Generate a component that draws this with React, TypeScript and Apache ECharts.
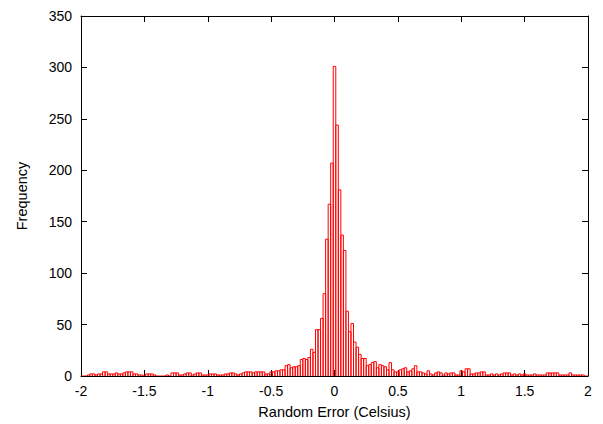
import React, { useEffect, useRef } from "react";
import * as echarts from "echarts";

// Histogram: bins of width 0.02 centred at -2.00, -1.98, ..., 2.00
const BIN_WIDTH = 0.02;
const FIRST_BIN_CENTER = -2;

// counts for bins centred at -2.00 .. -1.26
const countsFarLeft = [
  0, 0, 0, 1, 2, 2, 1, 2, 2, 4, 4, 2, 2, 2, 3, 2, 2, 3, 4, 4,
  4, 2, 2, 1, 1, 0, 2, 2, 2, 1, 0, 0, 0, 0, 1, 0, 3, 3,
];
// -1.24 .. -0.60
const countsLeft = [
  3, 1, 1, 2, 3, 3, 1, 2, 3, 3, 1, 1, 1, 2, 2, 2, 1, 1, 1, 2,
  2, 3, 3, 2, 1, 2, 3, 4, 4, 4, 3, 4, 4,
];
// -0.58 .. -0.24
const countsNearLeft = [4, 4, 2, 2, 4, 4, 5, 5, 6, 6, 10, 11, 8, 9, 9, 10, 16, 17];
// -0.22 .. 0.22
const countsCore = [
  16, 18, 26, 23, 45, 45, 56, 80, 133, 167, 207, 301, 244, 181, 137, 122, 63, 43, 51, 33,
  28, 21, 17,
];
// 0.24 .. 0.54
const countsNearRight = [17, 10, 11, 13, 14, 8, 11, 10, 9, 6, 13, 6, 4, 4, 6, 7];
// 0.56 .. 1.30
const countsRight = [
  8, 4, 5, 7, 10, 4, 4, 3, 2, 5, 2, 1, 3, 4, 3, 1, 3, 2, 3, 3,
  1, 1, 5, 4, 7, 7, 2, 2, 3, 3, 4, 4, 1, 1, 2, 1, 2, 1,
];
// 1.32 .. 2.00
const countsFarRight = [
  2, 3, 3, 3, 1, 2, 1, 2, 1, 2, 1, 1, 1, 2, 1, 1, 1, 1, 3, 3,
  3, 3, 3, 1, 1, 1, 1, 3, 1, 1, 1, 1, 1, 0, 0,
];

const counts = [
  ...countsFarLeft,
  ...countsLeft,
  ...countsNearLeft,
  ...countsCore,
  ...countsNearRight,
  ...countsRight,
  ...countsFarRight,
];

const X_MIN = -2;
const X_MAX = 2;
const X_STEP = 0.5;
const Y_MIN = 0;
const Y_MAX = 350;
const Y_STEP = 50;

const X_TITLE = "Random Error (Celsius)";
const Y_TITLE = "Frequency";

export default function App() {
  const ref = useRef<HTMLDivElement>(null);
  useEffect(() => {
    if (!ref.current) return;
    const chart = echarts.init(ref.current, null, { renderer: "svg" });
    const data = counts.map((c, i) => [
      Math.round((FIRST_BIN_CENTER + i * BIN_WIDTH) * 1000) / 1000,
      c,
    ]);
    const font = "Liberation Sans, Arial, Helvetica, sans-serif";
    const axisLine = { show: true, onZero: false, lineStyle: { color: "#000", width: 1 } };
    const tick = { show: true, inside: true, length: 6, lineStyle: { color: "#000", width: 1 } };
    chart.setOption({
      animation: false,
      backgroundColor: "#fff",
      grid: { left: 81, right: 15, top: 16, bottom: 48 },
      xAxis: [
        {
          type: "value",
          min: X_MIN,
          max: X_MAX,
          interval: X_STEP,
          position: "bottom",
          axisLine,
          axisTick: tick,
          splitLine: { show: false },
          axisLabel: {
            color: "#000",
            fontSize: 14,
            fontFamily: font,
            margin: 8,
            formatter: (v: number) => String(v),
          },
          name: X_TITLE,
          nameLocation: "middle",
          nameGap: 28,
          nameTextStyle: { color: "#000", fontSize: 14.5, fontFamily: font },
        },
        {
          type: "value",
          min: X_MIN,
          max: X_MAX,
          interval: X_STEP,
          position: "top",
          axisLine,
          axisTick: tick,
          splitLine: { show: false },
          axisLabel: { show: false },
        },
      ],
      yAxis: [
        {
          type: "value",
          min: Y_MIN,
          max: Y_MAX,
          interval: Y_STEP,
          position: "left",
          axisLine,
          axisTick: tick,
          splitLine: { show: false },
          axisLabel: {
            color: "#000",
            fontSize: 14,
            fontFamily: font,
            margin: 9,
          },
          name: Y_TITLE,
          nameLocation: "middle",
          nameGap: 52,
          nameRotate: 90,
          nameTextStyle: { color: "#000", fontSize: 14.5, fontFamily: font },
        },
        {
          type: "value",
          min: Y_MIN,
          max: Y_MAX,
          interval: Y_STEP,
          position: "right",
          axisLine,
          axisTick: tick,
          splitLine: { show: false },
          axisLabel: { show: false },
        },
      ],
      series: [
        {
          type: "custom",
          xAxisIndex: 0,
          yAxisIndex: 0,
          clip: true,
          data,
          encode: { x: 0, y: 1 },
          renderItem: (params: any, api: any) => {
            const x = api.value(0);
            const y = api.value(1);
            const p0 = api.coord([x - BIN_WIDTH / 2, 0]);
            const p1 = api.coord([x + BIN_WIDTH / 2, y]);
            return {
              type: "polyline",
              shape: {
                points: [
                  [p0[0], p0[1]],
                  [p0[0], p1[1]],
                  [p1[0], p1[1]],
                  [p1[0], p0[1]],
                ],
              },
              style: { stroke: "#ff0000", fill: "none", lineWidth: 1 },
            };
          },
        },
      ],
    });
    return () => chart.dispose();
  }, []);
  return (
    <div
      ref={ref}
      style={{ position: "absolute", left: 0, top: 0, width: 603, height: 424 }}
    />
  );
}
